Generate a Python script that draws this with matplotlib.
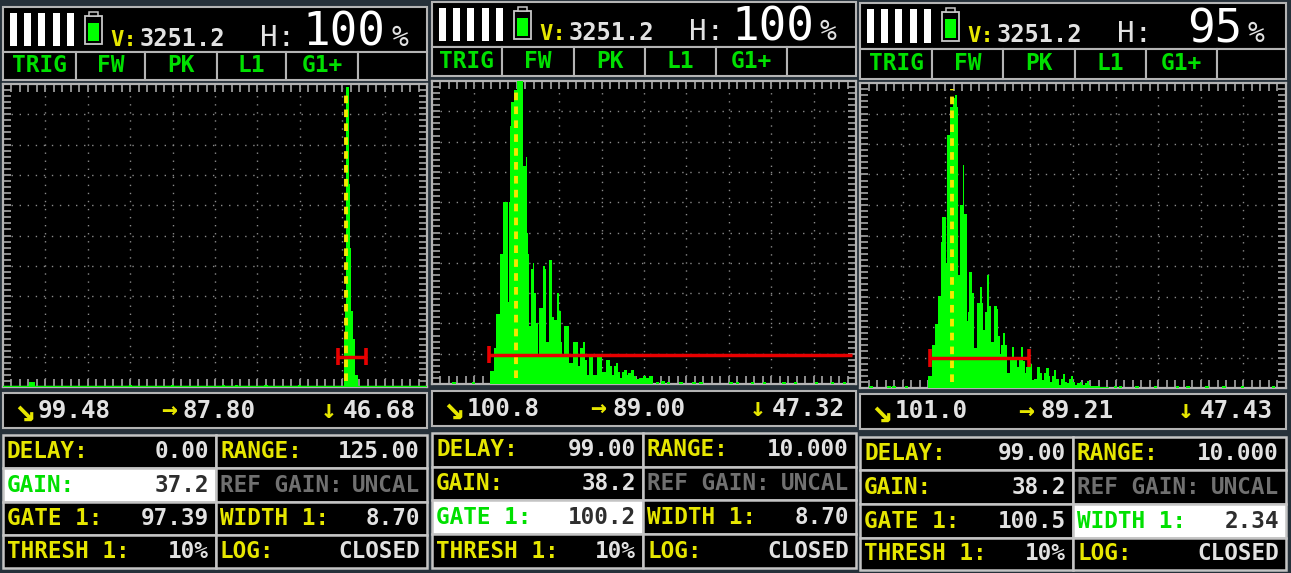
import numpy as np
import matplotlib
matplotlib.use('Agg')
from matplotlib import pyplot as plt
from matplotlib.patches import Rectangle

plt.rcParams['font.family'] = ['DejaVu Sans Mono', 'DejaVu Sans']
plt.rcParams['lines.scale_dashes'] = False

W, H = 1291, 573
YELLOW = '#e6e600'
GREEN = '#00e000'
LIME = '#00ff00'
LIGHT = '#e2e2e2'
LINE = '#b4b4b4'

# echo outlines, x in % of screen width, y in % of screen height
echo1_x = [80.4, 80.5, 80.8, 81.0, 81.4, 81.7, 81.8, 82.2, 82.8, 83.4, 84.2]
echo1_y = [0, 16, 25, 99, 99, 67, 46, 25, 16, 4, 0]
noise1_x = [6.5, 7.2, 30, 40, 52, 55, 62, 70]
noise1_y = [1.8, 1.6, 0.5, 0.5, 0.6, 0.5, 0.5, 0.5]

echo2_x = [13.0, 14.2, 15.0, 15.4, 16.5, 17.1, 17.9, 18.1, 18.3, 18.5, 18.9, 19.7, 20.5, 21.3, 21.5, 22.0, 22.3,
           22.5, 22.8, 23.0, 23.5, 24.0, 24.3, 24.8, 25.1, 25.6, 26.1, 26.4, 26.8, 27.2, 27.8,
           28.1, 28.6, 29.1, 29.7, 30.2, 30.5, 30.8, 31.5, 32.0, 32.7, 33.9, 34.2, 34.7, 35.2, 35.8, 36.3,
           36.8, 37.2, 37.8, 38.3, 39.4, 39.8, 40.4, 41.7, 42.2, 42.8, 43.1, 43.7, 44.2, 44.6, 45.1,
           45.7, 46.1, 46.5, 47.4, 47.9, 48.4, 49.4, 50.0, 50.8, 51.6, 52.0, 52.2]
echo2_y = [0, 4.4, 12, 23, 43, 60, 60, 27, 60, 85, 93, 97, 100, 100, 72, 72, 75,
           50, 43, 19, 38, 40, 30, 20, 10, 25, 25, 39, 38, 14, 41,
           41, 22, 21, 30, 24, 14, 10, 19, 19, 7, 14, 14, 6, 12, 14, 8,
           3, 9, 9, 3, 9, 9, 4, 8, 6, 3, 6, 7, 4, 2, 4,
           4.5, 3, 3.5, 4.5, 2.5, 1.5, 2, 2.5, 2, 2.5, 2.5, 0]
noise2_x = [5.2, 9.8, 53.2, 54.5, 55.8, 58.7, 61.8, 63.4, 70.5, 72, 75.6, 78.4, 83, 85.8, 90.7, 94.5, 97.3]
noise2_y = [0.8, 0.7, 0.8, 0.9, 0.8, 0.6, 0.5, 0.5, 0.6, 0.6, 0.5, 0.5, 0.6, 0.6, 0.6, 0.6, 0.5]

echo3_x = [15.6, 16.4, 17.4, 18.0, 18.8, 19.1, 19.5, 20.1, 20.2, 20.7, 21.5, 22.1, 22.5, 23.0, 23.2, 23.7,
           24.1, 24.3, 24.5, 24.9, 25.1, 25.4, 25.9, 26.6, 27.0, 27.9, 28.4, 28.7, 29.1, 29.5, 30.1, 30.5, 31.0,
           31.8, 32.3, 32.6, 33.0, 33.4, 33.8, 34.2, 34.8, 35.5, 35.9, 36.5, 37.1, 37.5, 38.0, 38.4, 38.9,
           39.2, 39.6, 40.1, 40.6, 41.0, 42.0, 42.4, 43.0, 43.5, 44.0, 44.5, 44.9, 45.4, 45.9, 46.3, 46.9, 47.3, 47.8,
           48.4, 48.8, 49.4, 49.8, 50.2, 50.8, 51.3, 51.8, 52.6, 53.1, 53.5, 53.9, 54.3, 58.2, 58.6]
echo3_y = [0, 4, 14, 21, 30, 48, 56, 56, 41, 83, 92, 95, 96, 92, 37, 60,
           60, 73, 57, 57, 22, 25, 38, 31, 13, 28, 33, 28, 19, 25, 37, 27, 15,
           27, 26, 17, 11, 14, 18, 14, 5, 10, 13.5, 10, 7, 10, 13.5, 9, 5,
           7, 12, 8, 2.5, 3, 7, 5, 2.5, 5, 6.5, 4, 2, 4, 6, 3, 1, 3, 4.5,
           2, 1.5, 3, 4, 2, 1, 1.5, 2, 1, 1.5, 2.2, 1, 0.5, 0.4, 0]
noise3_x = [2.6, 6.8, 8, 10.9, 60, 61.2, 65, 69.4, 74.6, 77, 81.5, 85.4, 89.8, 97]
noise3_y = [0.8, 0.7, 0.6, 0.7, 0.6, 0.6, 0.7, 0.7, 0.6, 0.6, 0.7, 0.6, 0.6, 0.7]

# gate and cursor, in % of screen
gate_y = [10.0, 9.7, 9.9]
gate_start = [79.1, 13.4, 16.5]
gate_end = [85.6, 99.0, 39.6]
gate_right_cap = [True, False, True]
cursor_x = [80.8, 19.9, 21.6]
green_floor = [True, False, False]

# text
tabs = ['TRIG', 'FW', 'PK', 'L1', 'G1+', '']
velocity = '3251.2'
amplitude = ['100', '100', '95']
readout_a = ['99.48', '100.8', '101.0']
readout_b = ['87.80', '89.00', '89.21']
readout_c = ['46.68', '47.32', '47.43']

left_labels = ['DELAY:', 'GAIN:', 'GATE 1:', 'THRESH 1:']
right_labels = ['RANGE:', 'REF GAIN:', 'WIDTH 1:', 'LOG:']
left_values = [['0.00', '37.2', '97.39', '10%'],
               ['99.00', '38.2', '100.2', '10%'],
               ['99.00', '38.2', '100.5', '10%']]
right_values = [['125.00', 'UNCAL', '8.70', 'CLOSED'],
                ['10.000', 'UNCAL', '8.70', 'CLOSED'],
                ['10.000', 'UNCAL', '2.34', 'CLOSED']]
selected = [('L', 1), ('L', 2), ('R', 2)]

# pixel layout of the three instrument screens
layout = [
    dict(x0=3, x1=427, top=(7, 52), tabs=(52, 80), div=[76, 145, 217, 286, 358], scan=(84, 387),
         read=(393, 428), table=(435, 568), mid=216, rows=[468, 502, 535]),
    dict(x0=432, x1=856, top=(2, 47), tabs=(47, 76), div=[502, 574, 645, 716, 787], scan=(81, 384),
         read=(391, 426), table=(433, 568), mid=643, rows=[467, 500, 534]),
    dict(x0=860, x1=1286, top=(3, 49), tabs=(49, 79), div=[932, 1003, 1075, 1146, 1217], scan=(83, 388),
         read=(394, 429), table=(437, 570), mid=1073, rows=[470, 504, 538]),
]

fig = plt.figure(figsize=(W / 100, H / 100), dpi=100, facecolor='#26313a')
bg = fig.add_axes([0, 0, 1, 1])
bg.set_xlim(0, W)
bg.set_ylim(H, 0)
bg.axis('off')


def box(x0, y0, x1, y1, fc='black', ec=LINE, lw=1.5):
    bg.add_patch(Rectangle((x0, y0), x1 - x0, y1 - y0, fc=fc, ec=ec, lw=lw))


def draw_scan(p, ex, ey, nx, ny, gy, g0, g1, cap, cur, floor):
    y0, y1 = p['scan']
    ax = fig.add_axes([p['x0'] / W, 1 - y1 / H, (p['x1'] - p['x0']) / W, (y1 - y0) / H], facecolor='black')
    ax.set_xlim(0, 100)
    ax.set_ylim(0, 100)
    ax.xaxis.remove_overlapping_locs = False
    ax.yaxis.remove_overlapping_locs = False
    ax.set_xticks(np.arange(0, 101, 2))
    ax.set_yticks(np.arange(0, 101, 2))
    ax.set_xticks(np.arange(10, 100, 10), minor=True)
    ax.set_yticks(np.arange(10, 100, 10), minor=True)
    ax.tick_params(which='major', direction='in', top=True, bottom=True, left=True, right=True,
                   length=6.0, width=1.2, color='#a8a8a8', labelleft=False, labelbottom=False)
    ax.tick_params(which='minor', length=0)
    ax.grid(which='minor', color='#8a8a8a', lw=1.0, ls=(0, (1.0, 4.8)))
    ax.set_axisbelow(True)
    for s in ax.spines.values():
        s.set_color(LINE)
        s.set_linewidth(1.6)

    ax.fill_between(ex, 0, ey, color=LIME, lw=0, zorder=3, step='mid')
    ax.bar(nx, ny, width=0.8, color=LIME, zorder=3)
    if floor:
        ax.axhline(0.4, color=LIME, lw=1.0, zorder=3)

    ax.plot([cur, cur], [2, 98], color='#f4e800', lw=2.8, ls=(0, (5.5, 4.5)), zorder=4)
    ax.plot([g0, g1], [gy, gy], color='#e80000', lw=2.5, zorder=5, solid_capstyle='butt')
    ax.plot([g0, g0], [gy - 2.9, gy + 2.9], color='#e80000', lw=2.6, zorder=5, solid_capstyle='butt')
    if cap:
        ax.plot([g1, g1], [gy - 2.9, gy + 2.9], color='#e80000', lw=2.6, zorder=5, solid_capstyle='butt')


for i, p in enumerate(layout):
    x0, x1 = p['x0'], p['x1']

    # status row
    ty0, ty1 = p['top']
    box(x0, ty0, x1, ty1)
    base = ty1 - 6.5
    for off in [7, 21, 35, 50, 64]:
        bg.add_patch(Rectangle((x0 + off, ty0 + 6), 7, ty1 - ty0 - 12, fc='white', ec='none'))
    bx = x0 + 82
    box(bx, ty0 + 9, bx + 17, ty1 - 8, ec='#c8c8c8', lw=1.3)
    bg.add_patch(Rectangle((bx + 4, ty0 + 5), 9, 4, fc='black', ec='#c8c8c8', lw=1.1))
    bg.add_patch(Rectangle((bx + 3, ty0 + 16), 11, ty1 - ty0 - 27, fc=LIME, ec='none'))
    bg.text(x0 + 107, base, 'V:', color=YELLOW, fontsize=16, fontweight='bold', va='baseline')
    bg.text(x0 + 137, base, velocity, color=LIGHT, fontsize=17, fontweight='bold', va='baseline')
    bg.text(x0 + 257, base, 'H:', color=LIGHT, fontsize=21, va='baseline')
    bg.text(x0 + 382, base, amplitude[i], color='white', fontsize=33, ha='right', va='baseline')
    bg.text(x0 + 388, base, '%', color=LIGHT, fontsize=20, va='baseline')

    # mode tabs
    ty0, ty1 = p['tabs']
    edges = [x0] + p['div'] + [x1]
    for j, name in enumerate(tabs):
        box(edges[j], ty0, edges[j + 1], ty1)
        bg.text((edges[j] + edges[j + 1]) / 2, (ty0 + ty1) / 2, name, color=GREEN, fontsize=16.5,
                fontweight='bold', ha='center', va='center')

    # screen
    if i == 0:
        draw_scan(p, echo1_x, echo1_y, noise1_x, noise1_y, gate_y[i], gate_start[i], gate_end[i], gate_right_cap[i], cursor_x[i], green_floor[i])
    elif i == 1:
        draw_scan(p, echo2_x, echo2_y, noise2_x, noise2_y, gate_y[i], gate_start[i], gate_end[i], gate_right_cap[i], cursor_x[i], green_floor[i])
    else:
        draw_scan(p, echo3_x, echo3_y, noise3_x, noise3_y, gate_y[i], gate_start[i], gate_end[i], gate_right_cap[i], cursor_x[i], green_floor[i])

    # readout row
    ry0, ry1 = p['read']
    box(x0, ry0, x1, ry1)
    ry = (ry0 + ry1) / 2
    for arrow, size, ax_off, val, v_off in [('↘', 25, 11, readout_a[i], 35), ('→', 19, 158, readout_b[i], 180), ('↓', 19, 318, readout_c[i], 340)]:
        bg.text(x0 + ax_off, ry, arrow, color=YELLOW, fontsize=size, fontweight='bold', va='center')
        bg.text(x0 + v_off, ry, val, color=LIGHT, fontsize=17.5, fontweight='bold', va='center')

    # settings table
    ty0, ty1 = p['table']
    mid = p['mid']
    ys = [ty0] + p['rows'] + [ty1]
    for r in range(4):
        cy = (ys[r] + ys[r + 1]) / 2
        for side, cx0, cx1, labels, values in [('L', x0, mid, left_labels, left_values[i]),
                                               ('R', mid, x1, right_labels, right_values[i])]:
            active = selected[i] == (side, r)
            box(cx0, ys[r], cx1, ys[r + 1], fc='white' if active else 'black', ec='#c4c4c4', lw=1.8)
            lab_col = GREEN if active else YELLOW
            val_col = '#2e2e2e' if active else LIGHT
            if labels[r] == 'REF GAIN:':
                lab_col = val_col = '#707070'
            bg.text(cx0 + 4, cy, labels[r], color=lab_col, fontsize=16.3, fontweight='bold', va='center')
            bg.text(cx1 - 7, cy, values[r], color=val_col, fontsize=16.3, fontweight='bold', ha='right', va='center')

fig.savefig('out.png', dpi=100, facecolor=fig.get_facecolor())
